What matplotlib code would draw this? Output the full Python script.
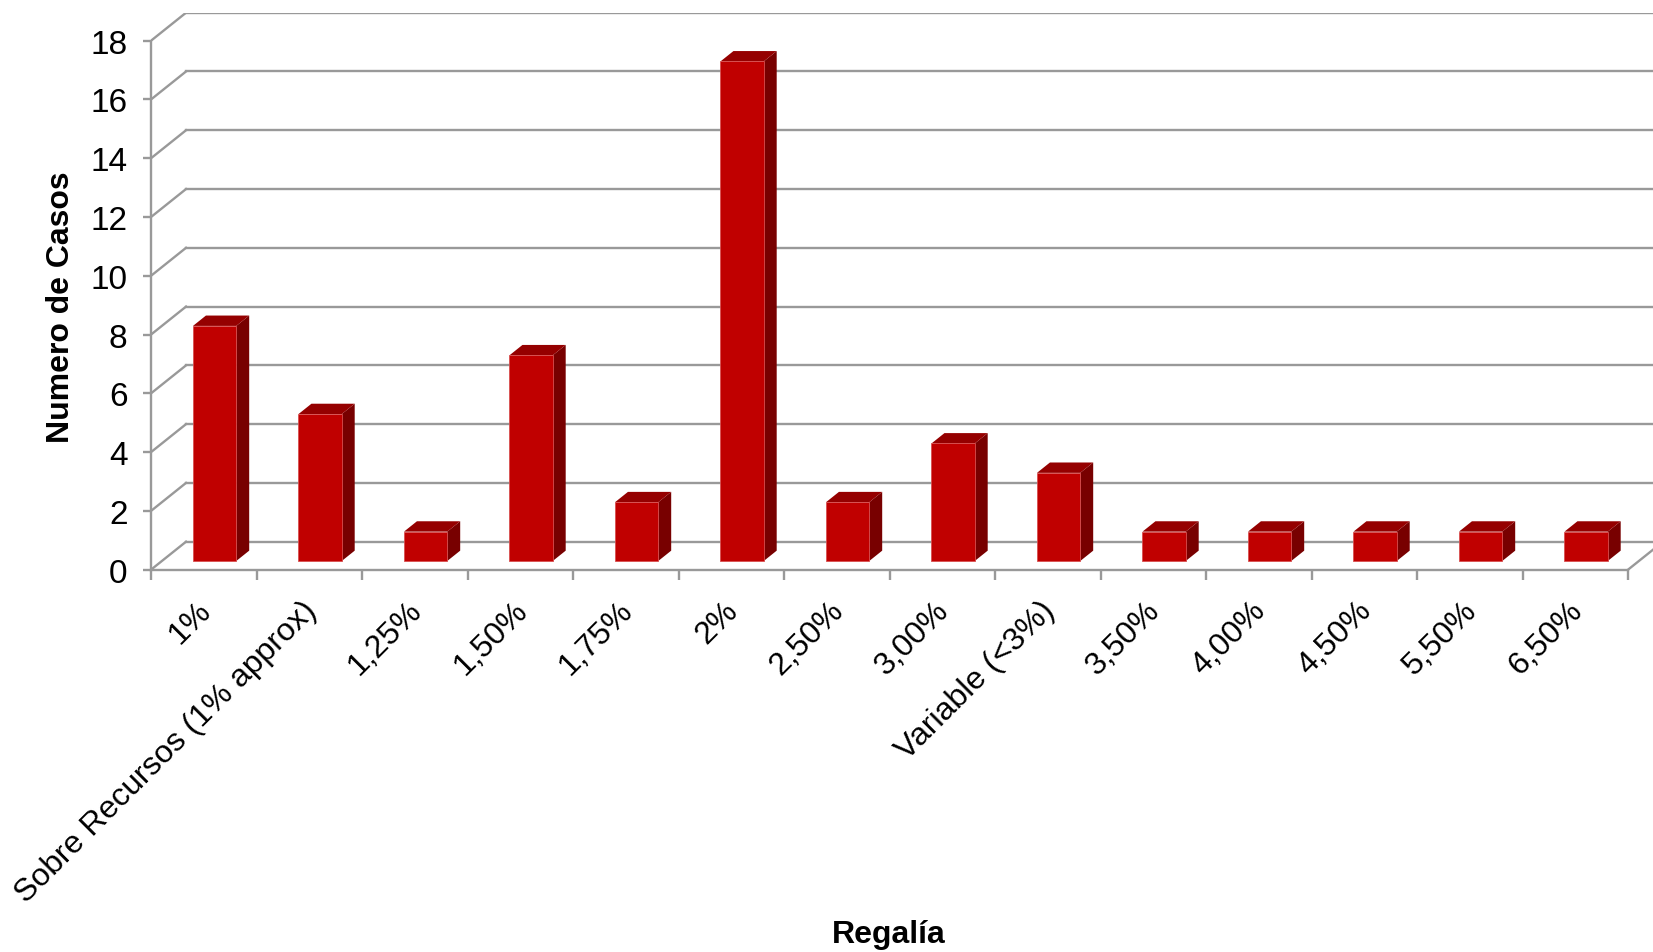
import numpy as np
import matplotlib.pyplot as plt
from matplotlib.patches import Polygon
from matplotlib.transforms import ScaledTranslation

plt.rcParams['font.family'] = ['Liberation Sans', 'DejaVu Sans']

categories = ['1%', 'Sobre Recursos (1% approx)', '1,25%', '1,50%', '1,75%', '2%',
              '2,50%', '3,00%', 'Variable (<3%)', '3,50%', '4,00%', '4,50%',
              '5,50%', '6,50%']
casos = [8, 5, 1, 7, 2, 17, 2, 4, 3, 1, 1, 1, 1, 1]
yticks = np.arange(0, 19, 2)

# fake 3D: depth offset of the back wall in data units
DX = 0.332
DY = 0.953
Z0, Z1 = 0.31, 0.68          # bar front / back depth
BW = 0.41                    # bar width
grid_c = '#999999'
front_c, side_c, top_c = '#c00000', '#780000', '#950000'

fig = plt.figure(figsize=(16.53, 9.53), dpi=100)
ax = fig.add_axes([151 / 1653, 1 - 570.7 / 953, 1 - 151 / 1653, (570.7 - 13.7) / 953])
n = len(categories)
xmax = 1502 / 105.5
ax.set_xlim(0, xmax)
ax.set_ylim(0, 18 + DY)

# walls: back gridlines and left-side diagonals
for v in yticks:
    ax.plot([DX, xmax + 1], [v + DY, v + DY], color=grid_c, lw=1.7, zorder=1)
    ax.plot([0, DX], [v, v + DY], color=grid_c, lw=1.7, zorder=1)
# floor right edge
ax.plot([n, n + DX], [0, DY], color=grid_c, lw=1.7, zorder=1)

for i, v in enumerate(casos):
    x0 = i + 0.5 - BW / 2
    x1 = i + 0.5 + BW / 2
    front = [(x0 + Z0 * DX, Z0 * DY), (x1 + Z0 * DX, Z0 * DY),
             (x1 + Z0 * DX, v + Z0 * DY), (x0 + Z0 * DX, v + Z0 * DY)]
    side = [(x1 + Z0 * DX, Z0 * DY), (x1 + Z1 * DX, Z1 * DY),
            (x1 + Z1 * DX, v + Z1 * DY), (x1 + Z0 * DX, v + Z0 * DY)]
    top = [(x0 + Z0 * DX, v + Z0 * DY), (x1 + Z0 * DX, v + Z0 * DY),
           (x1 + Z1 * DX, v + Z1 * DY), (x0 + Z1 * DX, v + Z1 * DY)]
    ax.add_patch(Polygon(side, closed=True, fc=side_c, ec='none', zorder=3))
    ax.add_patch(Polygon(top, closed=True, fc=top_c, ec='none', zorder=3))
    ax.add_patch(Polygon(front, closed=True, fc=front_c, ec='#d85050', lw=0.6, zorder=4))

for s in ['top', 'right']:
    ax.spines[s].set_visible(False)
ax.spines['left'].set_bounds(0, 18)
ax.spines['bottom'].set_bounds(0, n)
for s in ['left', 'bottom']:
    ax.spines[s].set_color(grid_c)
    ax.spines[s].set_linewidth(1.7)
    ax.spines[s].set_zorder(2)

ax.set_yticks(yticks)
ax.set_yticklabels([str(t) for t in yticks])
ax.tick_params(axis='y', length=6, width=1.7, color=grid_c, labelsize=24, pad=11)

ax.set_xticks(np.arange(n + 1))
ax.set_xticklabels([])
ax.tick_params(axis='x', which='major', length=7, width=1.7, color=grid_c)
ax.set_xticks(np.arange(n) + 0.5, minor=True)
ax.set_xticklabels(categories, minor=True, rotation=45, ha='right',
                   va='top', rotation_mode='anchor')
ax.tick_params(axis='x', which='minor', length=0, labelsize=23, pad=18)
shift = ScaledTranslation(-8 / 100, 0, fig.dpi_scale_trans)
for lab in ax.get_xticklabels(minor=True):
    lab.set_transform(lab.get_transform() + shift)

fig.text(889 / 1653, 1 - 935 / 953, 'Regalía', fontsize=23, fontweight='bold',
         ha='center', va='center')
fig.text(61 / 1653, 1 - 307 / 953, 'Numero de Casos', fontsize=23, fontweight='bold',
         ha='center', va='center', rotation=90)

fig.savefig('out.png', dpi=100)
